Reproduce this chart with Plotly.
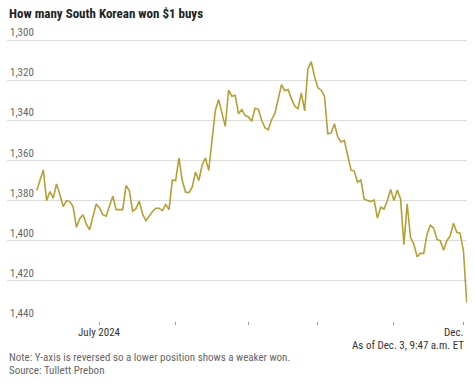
import pandas as pd
import plotly.graph_objects as go

# Trading days from June 4 to Dec. 3, 2024
dates = pd.bdate_range("2024-06-04", "2024-12-03")
won_per_dollar = [
    1375, 1370, 1364.7, 1380, 1375.5, 1378.8, 1371.7, 1377, 1383, 1380,
    1380.5, 1383, 1393.3, 1389, 1387, 1391.7, 1394.5, 1388, 1381.7, 1383.8,
    1387, 1387.8, 1383, 1377.8, 1384.5, 1384.5, 1384.5, 1372.5, 1375, 1385.3,
    1384, 1380.3, 1386.7, 1390, 1387.5, 1385.5, 1383.8, 1383.8, 1385, 1382,
    1384.5, 1369.7, 1370, 1358.7, 1370, 1375.8, 1376, 1373.3, 1365.8, 1370,
    1362.5, 1358.7, 1365, 1348.3, 1335, 1329.7, 1335.8, 1343, 1325, 1328,
    1327.5, 1336.7, 1334.7, 1337.5, 1338.3, 1340.5, 1334, 1334.5, 1340, 1343.7,
    1344.7, 1339.7, 1336.7, 1330, 1322.2, 1325.3, 1324.7, 1329.2, 1333, 1334.2,
    1326.3, 1335.3, 1314.2, 1310.8, 1318.3, 1323.8, 1325, 1328, 1346.7, 1346.3,
    1341.7, 1348.3, 1350.8, 1350, 1358.3, 1364.7, 1365.3, 1370.8, 1369.7, 1379.2,
    1380, 1380.5, 1379.7, 1388.7, 1383.3, 1384.2, 1380, 1374.5, 1380, 1374.7,
    1379.2, 1402, 1381.7, 1398.3, 1401.7, 1408, 1406.3, 1406.3, 1396.7, 1392.2,
    1393.7, 1399.2, 1400, 1404.7, 1400, 1397.5, 1391.3, 1395.8, 1396.3, 1405,
    1430.8,
]
y_ticks = [1300, 1320, 1340, 1360, 1380, 1400, 1420, 1440]
month_starts = ["2024-07-01", "2024-08-01", "2024-09-02", "2024-10-01", "2024-11-01", "2024-12-02"]

n = len(won_per_dollar)
dates = dates[:n]
idx = list(range(n))
date_pos = {d.strftime("%Y-%m-%d"): i for i, d in enumerate(dates)}
tick_idx = [date_pos[m] for m in month_starts]

FONT = "Liberation Sans Narrow, Roboto Condensed, DejaVu Sans Condensed, Roboto, sans-serif"
LINE = "#b5a033"

W, H = 474, 382
L, R, T, B = 7, 7, 26, 61

fig = go.Figure(go.Scatter(
    x=idx, y=won_per_dollar, mode="lines",
    line=dict(color=LINE, width=1.6),
    customdata=[d.strftime("%b %d, %Y") for d in dates],
    hovertemplate="%{customdata}: %{y:,.1f}<extra></extra>",
))

fig.update_layout(
    width=W, height=H,
    margin=dict(l=L, r=R, t=T, b=B, autoexpand=False),
    paper_bgcolor="white", plot_bgcolor="white",
    showlegend=False,
    font=dict(family=FONT, size=11, color="#666"),
    xaxis=dict(
        range=[-8.98, 130.08],
        tickvals=tick_idx, ticktext=[""] * len(tick_idx),
        ticks="outside", ticklen=3, tickwidth=1, tickcolor="#999",
        showgrid=False, zeroline=False, showline=False,
        fixedrange=True,
    ),
    yaxis=dict(
        range=[1440, 1293],
        tickvals=y_ticks, tickformat=",d",
        ticklabelposition="inside top",
        tickfont=dict(size=11, color="#666"),
        showgrid=True, gridcolor="#dcdcdc", gridwidth=1,
        zeroline=False, showline=False, ticks="",
        fixedrange=True,
    ),
)

def px_to_paper(px, py):
    return (px - L) / (W - L - R), 1 - (py - T) / (H - T - B)

anns = [
    ("<b>How many South Korean won $1 buys</b>", 7, 14, "left", 13, "#222"),
    ("July 2024", 99, 332, "center", 11, "#333"),
    ("Dec.", 466, 332, "right", 11, "#333"),
    ("As of Dec. 3, 9:47 a.m. ET", 466, 345, "right", 11, "#333"),
    ("Note: Y-axis is reversed so a lower position shows a weaker won.", 7, 357, "left", 11, "#666"),
    ("Source: Tullett Prebon", 7, 370, "left", 11, "#666"),
]
for text, px, py, xa, size, color in anns:
    x, y = px_to_paper(px, py)
    fig.add_annotation(
        text=text, xref="paper", yref="paper", x=x, y=y,
        xanchor=xa, yanchor="middle", showarrow=False,
        font=dict(family=FONT, size=size, color=color),
    )

fig.write_html(
    "out.html",
    config={"displayModeBar": False},
    post_script="document.body.style.margin='0';",
)
